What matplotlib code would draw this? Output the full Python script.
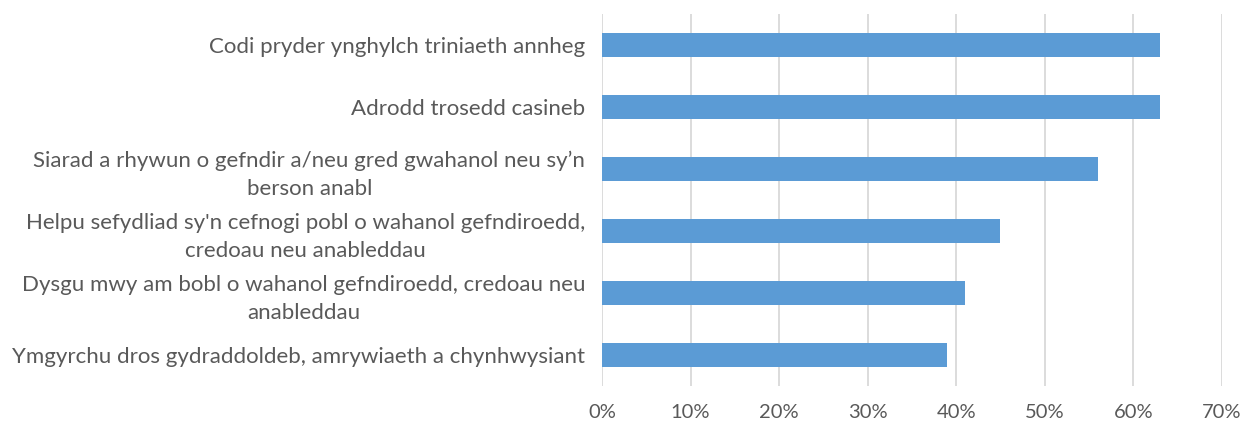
import matplotlib.pyplot as plt
from matplotlib.ticker import FuncFormatter

categories = [
    "Codi pryder ynghylch triniaeth annheg",
    "Adrodd trosedd casineb",
    "Siarad a rhywun o gefndir a/neu gred gwahanol neu sy\u2019n\nberson anabl",
    "Helpu sefydliad sy'n cefnogi pobl o wahanol gefndiroedd,\ncredoau neu anableddau",
    "Dysgu mwy am bobl o wahanol gefndiroedd, credoau neu\nanableddau",
    "Ymgyrchu dros gydraddoldeb, amrywiaeth a chynhwysiant",
]
values = [63, 63, 56, 45, 41, 39]
x_ticks = [0, 10, 20, 30, 40, 50, 60, 70]

plt.rcParams["font.family"] = ["Lato", "DejaVu Sans"]

fig = plt.figure(figsize=(12.43, 4.28), dpi=100)
ax = fig.add_axes([0.4843, 0.098, 0.4987, 0.869])

y = list(range(len(categories)))
ax.barh(y, values, height=0.38, color="#5b9bd5", zorder=3)

ax.set_xlim(0, 70)
ax.set_ylim(len(categories) - 0.5, -0.5)
ax.set_xticks(x_ticks)
ax.xaxis.set_major_formatter(FuncFormatter(lambda v, _: f"{v:.0f}%"))
ax.grid(axis="x", color="#d9d9d9", linewidth=1.3, zorder=0)
ax.set_axisbelow(True)

ax.set_yticks(y)
ax.set_yticklabels(categories, multialignment="center", linespacing=1.5)
for spine in ax.spines.values():
    spine.set_visible(False)
ax.tick_params(axis="y", length=0, pad=12, labelsize=16, labelcolor="#595959")
ax.tick_params(axis="x", length=0, pad=13, labelsize=14.5, labelcolor="#595959")

fig.savefig("out.png", dpi=100)
